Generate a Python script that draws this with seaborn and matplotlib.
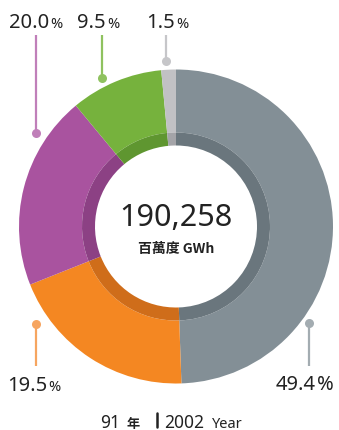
import matplotlib
matplotlib.use("Agg")
import matplotlib.pyplot as plt
import seaborn as sns

# Power generation shares, clockwise from 12 o'clock
sources = ["gray", "orange", "purple", "green", "lightgray"]
shares = [49.4, 19.5, 20.0, 9.5, 1.5]
share_labels = ["49.4", "19.5", "20.0", "9.5", "1.5"]
outer_colors = ["#838f96", "#f48722", "#a9539f", "#76b23d", "#c1c1c4"]
inner_colors = ["#6a767d", "#cf6d1a", "#8c4184", "#5f9630", "#a4a4a8"]
line_colors = ["#a3acb1", "#f6a560", "#c07fb9", "#8fc25f", "#c6c6c9"]
total_value = "190,258"
total_unit = "百萬度 GWh"
year_text = ("91", "年", "2002", "Year")

sns.set_style("white")
plt.rcParams["font.family"] = ["Noto Sans", "Noto Sans CJK TC", "DejaVu Sans"]

W, H = 339, 431
fig = plt.figure(figsize=(W / 100, H / 100), dpi=100)
ax = fig.add_axes([0, 0, 1, 1])

def Y(py):
    return H - py

cx, cy = 176, Y(227.5)
R_out, R_mid, R_in = 157, 94, 81

ax.pie(shares, colors=outer_colors, startangle=90, counterclock=False,
       radius=R_out, center=(cx, cy), normalize=True,
       wedgeprops=dict(width=R_out - R_mid, linewidth=0), frame=True)
ax.pie(shares, colors=inner_colors, startangle=90, counterclock=False,
       radius=R_mid, center=(cx, cy), normalize=True,
       wedgeprops=dict(width=R_mid - R_in, linewidth=0), frame=True)
ax.set_xlim(0, W)
ax.set_ylim(0, H)
ax.set_aspect("equal")
ax.axis("off")

txt = "#222222"
cjk = ["Noto Sans CJK TC", "DejaVu Sans"]
# label anchors: x split between number and %, baseline y, line x, line top/bottom, dot y, small %
label_spec = {
    "purple": (49, 28, 36, 36, 134, 134, True),
    "green": (106, 28, 102, 36, 79, 79, True),
    "lightgray": (175, 28, 166, 36, 62, 62, True),
    "orange": (47, 391, 36, 325, 367, 325, True),
    "gray": (316, 390, 309, 324, 367, 324, False),
}
for name, lab, lc in zip(sources, share_labels, line_colors):
    xs, yb, lx, lt, lb, dy, small = label_spec[name]
    ax.plot([lx, lx], [Y(lt), Y(lb)], color=lc, lw=1.6, solid_capstyle="butt")
    ax.plot(lx, Y(dy), "o", color=lc, ms=6.5, mec="none")
    ax.text(xs, Y(yb), lab, ha="right", va="baseline", fontsize=14.5, color=txt)
    ax.text(xs + 1, Y(yb), "%", ha="left", va="baseline",
            fontsize=10.5 if small else 14.5, color=txt)

ax.text(cx, Y(218), total_value, ha="center", va="center", fontsize=22, color=txt)
ax.text(cx, Y(249), total_unit, ha="center", va="center", fontsize=10,
        color=txt, fontweight="bold", family=cjk)

yb = Y(428)
ax.text(120, yb, year_text[0], ha="right", va="baseline", fontsize=12.5, color=txt)
ax.text(127, yb, year_text[1], ha="left", va="baseline", fontsize=9.5, color=txt,
        family=cjk, fontweight="bold")
ax.plot([157, 157], [Y(414), Y(428)], color=txt, lw=1.8)
ax.text(164, yb, year_text[2], ha="left", va="baseline", fontsize=12.5, color=txt)
ax.text(212, yb, year_text[3], ha="left", va="baseline", fontsize=10.5, color=txt)

fig.savefig("out.png", dpi=100)
